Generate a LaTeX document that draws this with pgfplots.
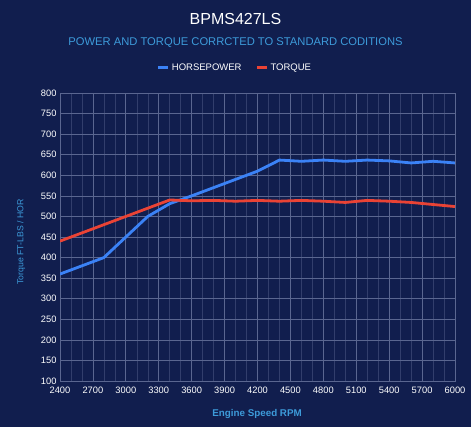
\documentclass[border=0pt]{standalone}
\usepackage{fontspec}
\setmainfont{Liberation Sans}
\usepackage{pgfplots}
\pgfplotsset{compat=1.18}
\usetikzlibrary{backgrounds,calc}
\definecolor{bg}{HTML}{111E4E}
\definecolor{hpblue}{HTML}{3B82F6}
\definecolor{tqred}{HTML}{EA4335}
\definecolor{subblue}{HTML}{3D9BDA}
\definecolor{gridc}{HTML}{5A6690}

\begin{document}
\begin{tikzpicture}[x=1bp,y=1bp]
\begin{axis}[
  name=ax,
  width=395bp, height=288bp, scale only axis,
  xmin=2400, xmax=6000, ymin=100, ymax=800,
  xtick={2400,2700,...,6000},
  ytick={100,150,...,800},
  minor x tick num=2,
  grid=both,
  major grid style={line width=0.7bp, draw=gridc},
  minor grid style={line width=0.5bp, draw=gridc!45!bg},
  axis line style={draw=gridc, line width=0.7bp},
  major tick length=0pt, minor tick length=0pt,
  /pgf/number format/1000 sep={},
  /pgf/number format/assume math mode=true,
  tick label style={text=white, font=\fontsize{9.3bp}{10bp}\selectfont},
  xticklabel style={yshift=-2bp},
  xlabel={\bfseries Engine Speed RPM},
  ylabel={Torque FT-LBS / HOR},
  xlabel style={text=subblue, font=\fontsize{9.8bp}{12bp}\selectfont, at={(axis description cs:0.499,-0.1146)}, anchor=center},
  ylabel style={text=subblue, font=\fontsize{8.7bp}{11bp}\selectfont, at={(axis description cs:-0.0987,0.483)}, anchor=center},
  legend columns=2,
  legend style={at={(0.443,1.087)}, anchor=center, draw=none, fill=none,
    text=white, font=\fontsize{9.5bp}{11bp}\selectfont,
    /tikz/every even column/.append style={column sep=12bp}},
  legend image code/.code={\draw[line width=3bp] (-3bp,0bp) -- (7bp,0bp);},
]
\addplot[hpblue, line width=2.8bp, line join=round] coordinates {
  (2400,360) (2800,400) (3200,500) (3400,531) (3600,550) (3800,570)
  (4000,590) (4200,610) (4400,637) (4600,634) (4800,637) (5000,634)
  (5200,637) (5400,635) (5600,630) (5800,634) (6000,630)
};
\addlegendentry{HORSEPOWER}
\addplot[tqred, line width=2.8bp, line join=round] coordinates {
  (2400,440) (2800,480) (3200,520) (3400,540) (3600,538) (3800,539)
  (4000,537) (4200,539) (4400,537) (4600,539) (4800,537) (5000,534)
  (5200,539) (5400,537) (5600,534) (5800,529) (6000,524)
};
\addlegendentry{TORQUE}
\end{axis}
\coordinate (o) at ($(ax.south west)+(-60,-46)$);
\node[text=white, font=\fontsize{16bp}{18bp}\selectfont] at ($(o)+(235.5,408)$) {BPMS427LS};
\node[text=subblue, font=\fontsize{11.2bp}{13bp}\selectfont] at ($(o)+(235.5,384)$) {POWER AND TORQUE CORRCTED TO STANDARD CODITIONS};
\begin{scope}[on background layer]
\fill[bg] (o) rectangle ($(o)+(471,427)$);
\end{scope}
\end{tikzpicture}
\end{document}
